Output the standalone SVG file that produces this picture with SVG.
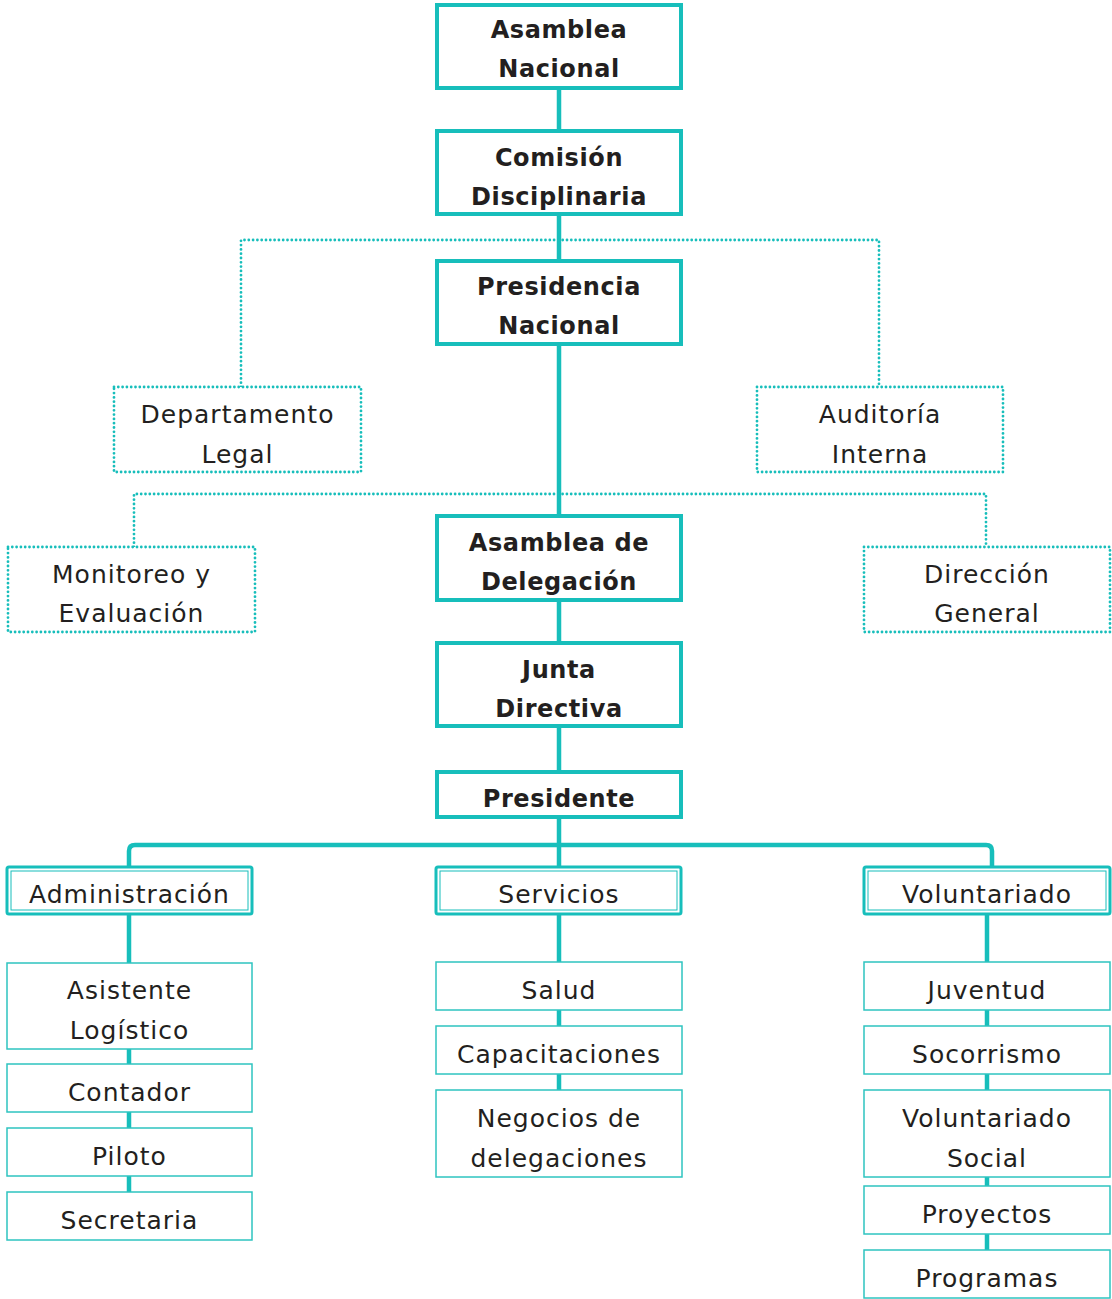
<svg xmlns="http://www.w3.org/2000/svg" width="1112" height="1299" viewBox="0 0 1112 1299">
<style>
.main{fill:#fff;stroke:#17bebb;stroke-width:4}
.dot{fill:#fff;stroke:#17bebb;stroke-width:2.8;stroke-dasharray:0 4.3;stroke-linecap:round}
.dl{fill:none;stroke:#17bebb;stroke-width:2.8;stroke-dasharray:0 4.3;stroke-linecap:round}
.hd{fill:#fff;stroke:#17bebb;stroke-width:3}
.hdi{fill:none;stroke:#17bebb;stroke-width:1}
.sub{fill:#fff;stroke:#2ec4c0;stroke-width:1.5}
.cn{fill:none;stroke:#17bebb;stroke-width:4.5;stroke-linejoin:round}
text{font-family:"DejaVu Sans","Liberation Sans",sans-serif;fill:#231f20;text-anchor:middle;font-size:25px;letter-spacing:1px}
.b{font-weight:bold;font-size:24px;letter-spacing:0.6px}
</style>
<g id="connectors">
<path class="cn" d="M559 88V772"/>
<path class="cn" d="M559 817V868"/>
<path class="cn" d="M129 868V851Q129 845 135 845H986Q992 845 992 851V868"/>
<path class="cn" d="M129 914V1192"/>
<path class="cn" d="M559 914V1090"/>
<path class="cn" d="M987 914V1250"/>
<path class="dl" d="M241 387V240H879V387"/>
<path class="dl" d="M134 547V494H986V547"/>
</g>
<g id="n1"><rect class="main" x="437" y="5" width="244" height="83"/><text class="b" x="559" y="38">Asamblea</text><text class="b" x="559" y="77">Nacional</text></g>
<g id="n2"><rect class="main" x="437" y="131" width="244" height="83"/><text class="b" x="559" y="166">Comisión</text><text class="b" x="559" y="205">Disciplinaria</text></g>
<g id="n3"><rect class="main" x="437" y="261" width="244" height="83"/><text class="b" x="559" y="295">Presidencia</text><text class="b" x="559" y="334">Nacional</text></g>
<g id="n4"><rect class="dot" x="114" y="387" width="247" height="85"/><text x="237.5" y="423">Departamento</text><text x="237.5" y="463">Legal</text></g>
<g id="n5"><rect class="dot" x="757" y="387" width="246" height="85"/><text x="880" y="423">Auditoría</text><text x="880" y="463">Interna</text></g>
<g id="n6"><rect class="main" x="437" y="516" width="244" height="84"/><text class="b" x="559" y="551">Asamblea de</text><text class="b" x="559" y="590">Delegación</text></g>
<g id="n7"><rect class="dot" x="8" y="547" width="247" height="85"/><text x="131.5" y="583">Monitoreo y</text><text x="131.5" y="622">Evaluación</text></g>
<g id="n8"><rect class="dot" x="864" y="547" width="246" height="85"/><text x="987" y="583">Dirección</text><text x="987" y="622">General</text></g>
<g id="n9"><rect class="main" x="437" y="643" width="244" height="83"/><text class="b" x="559" y="678">Junta</text><text class="b" x="559" y="717">Directiva</text></g>
<g id="n10"><rect class="main" x="437" y="772" width="244" height="45"/><text class="b" x="559" y="807">Presidente</text></g>
<g id="n11"><rect class="hd" x="7" y="867" width="245" height="47" rx="2"/><rect class="hdi" x="11" y="871" width="237" height="39"/><text x="129.5" y="903">Administración</text></g>
<g id="n12"><rect class="hd" x="436" y="867" width="245" height="47" rx="2"/><rect class="hdi" x="440" y="871" width="237" height="39"/><text x="559" y="903">Servicios</text></g>
<g id="n13"><rect class="hd" x="864" y="867" width="246" height="47" rx="2"/><rect class="hdi" x="868" y="871" width="238" height="39"/><text x="987" y="903">Voluntariado</text></g>
<g id="n14"><rect class="sub" x="7" y="963" width="245" height="86"/><text x="129.5" y="999">Asistente</text><text x="129.5" y="1039">Logístico</text></g>
<g id="n15"><rect class="sub" x="7" y="1064" width="245" height="48"/><text x="129.5" y="1101">Contador</text></g>
<g id="n16"><rect class="sub" x="7" y="1128" width="245" height="48"/><text x="129.5" y="1165">Piloto</text></g>
<g id="n17"><rect class="sub" x="7" y="1192" width="245" height="48"/><text x="129.5" y="1229">Secretaria</text></g>
<g id="n18"><rect class="sub" x="436" y="962" width="246" height="48"/><text x="559" y="999">Salud</text></g>
<g id="n19"><rect class="sub" x="436" y="1026" width="246" height="48"/><text x="559" y="1063">Capacitaciones</text></g>
<g id="n20"><rect class="sub" x="436" y="1090" width="246" height="87"/><text x="559" y="1127">Negocios de</text><text x="559" y="1167">delegaciones</text></g>
<g id="n21"><rect class="sub" x="864" y="962" width="246" height="48"/><text x="987" y="999">Juventud</text></g>
<g id="n22"><rect class="sub" x="864" y="1026" width="246" height="48"/><text x="987" y="1063">Socorrismo</text></g>
<g id="n23"><rect class="sub" x="864" y="1090" width="246" height="87"/><text x="987" y="1127">Voluntariado</text><text x="987" y="1167">Social</text></g>
<g id="n24"><rect class="sub" x="864" y="1186" width="246" height="48"/><text x="987" y="1223">Proyectos</text></g>
<g id="n25"><rect class="sub" x="864" y="1250" width="246" height="48"/><text x="987" y="1287">Programas</text></g>
</svg>
